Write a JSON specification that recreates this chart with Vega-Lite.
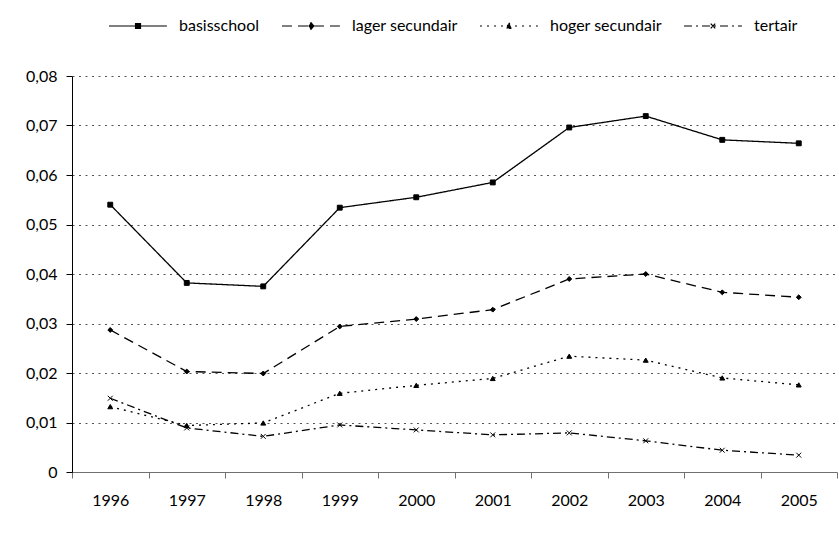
{
  "$schema": "https://vega.github.io/schema/vega-lite/v6.json",
  "autosize": "none",
  "width": 765,
  "height": 396,
  "padding": {"left": 72, "top": 76, "right": 2, "bottom": 62},
  "config": {
    "font": "Lato",
    "view": {"stroke": null},
    "axis": {"labelFont": "Lato", "labelFontSize": 16, "labelColor": "black", "title": null},
    "legend": {
      "title": null,
      "orient": "none",
      "direction": "horizontal",
      "legendX": 32,
      "legendY": -58,
      "padding": 0,
      "symbolSize": 36,
      "symbolFillColor": "black",
      "symbolStrokeColor": "black",
      "symbolStrokeWidth": 1.2,
      "symbolOpacity": 1,
      "labelFontSize": 16,
      "labelColor": "black",
      "labelFont": "Lato",
      "labelOffset": 59,
      "columnPadding": 17
    }
  },
  "data": {
    "values": [
      {"year": "1996", "series": "basisschool", "value": 0.0540},
      {"year": "1997", "series": "basisschool", "value": 0.0382},
      {"year": "1998", "series": "basisschool", "value": 0.0375},
      {"year": "1999", "series": "basisschool", "value": 0.0534},
      {"year": "2000", "series": "basisschool", "value": 0.0555},
      {"year": "2001", "series": "basisschool", "value": 0.0585},
      {"year": "2002", "series": "basisschool", "value": 0.0696},
      {"year": "2003", "series": "basisschool", "value": 0.0719},
      {"year": "2004", "series": "basisschool", "value": 0.0671},
      {"year": "2005", "series": "basisschool", "value": 0.0664},
      {"year": "1996", "series": "lager secundair", "value": 0.0287},
      {"year": "1997", "series": "lager secundair", "value": 0.0203},
      {"year": "1998", "series": "lager secundair", "value": 0.0199},
      {"year": "1999", "series": "lager secundair", "value": 0.0294},
      {"year": "2000", "series": "lager secundair", "value": 0.0309},
      {"year": "2001", "series": "lager secundair", "value": 0.0328},
      {"year": "2002", "series": "lager secundair", "value": 0.0390},
      {"year": "2003", "series": "lager secundair", "value": 0.0400},
      {"year": "2004", "series": "lager secundair", "value": 0.0363},
      {"year": "2005", "series": "lager secundair", "value": 0.0353},
      {"year": "1996", "series": "hoger secundair", "value": 0.0132},
      {"year": "1997", "series": "hoger secundair", "value": 0.0094},
      {"year": "1998", "series": "hoger secundair", "value": 0.0099},
      {"year": "1999", "series": "hoger secundair", "value": 0.0159},
      {"year": "2000", "series": "hoger secundair", "value": 0.0175},
      {"year": "2001", "series": "hoger secundair", "value": 0.0189},
      {"year": "2002", "series": "hoger secundair", "value": 0.0234},
      {"year": "2003", "series": "hoger secundair", "value": 0.0226},
      {"year": "2004", "series": "hoger secundair", "value": 0.0190},
      {"year": "2005", "series": "hoger secundair", "value": 0.0176},
      {"year": "1996", "series": "tertair", "value": 0.0149},
      {"year": "1997", "series": "tertair", "value": 0.0089},
      {"year": "1998", "series": "tertair", "value": 0.0072},
      {"year": "1999", "series": "tertair", "value": 0.0095},
      {"year": "2000", "series": "tertair", "value": 0.0085},
      {"year": "2001", "series": "tertair", "value": 0.0075},
      {"year": "2002", "series": "tertair", "value": 0.0079},
      {"year": "2003", "series": "tertair", "value": 0.0063},
      {"year": "2004", "series": "tertair", "value": 0.0044},
      {"year": "2005", "series": "tertair", "value": 0.0034}
    ]
  },
  "encoding": {
    "x": {
      "field": "year",
      "type": "ordinal",
      "bandPosition": 0.5,
      "scale": {"type": "band", "paddingInner": 0, "paddingOuter": 0},
      "axis": {
        "labelAngle": 0,
        "tickBand": "extent",
        "domainColor": "#707070",
        "tickColor": "#707070",
        "tickSize": 6,
        "labelPadding": 14,
        "grid": false
      }
    },
    "y": {
      "field": "value",
      "type": "quantitative",
      "scale": {"domain": [0, 0.08], "nice": false},
      "axis": {
        "values": [0, 0.01, 0.02, 0.03, 0.04, 0.05, 0.06, 0.07, 0.08],
        "labelExpr": "datum.value == 0 ? '0' : replace(format(datum.value, '.2f'), '.', ',')",
        "domainColor": "black",
        "tickColor": "black",
        "tickSize": 6,
        "labelPadding": 9,
        "grid": true,
        "gridColor": "#555555",
        "gridDash": [2, 4.5],
        "gridWidth": 1
      }
    }
  },
  "layer": [
    {
      "mark": {"type": "line", "color": "black", "strokeWidth": 1.3},
      "encoding": {
        "strokeDash": {
          "field": "series",
          "scale": {
            "domain": ["basisschool", "lager secundair", "hoger secundair", "tertair"],
            "range": [[1, 0], [10, 6], [2, 5], [8, 4, 2, 4]]
          },
          "legend": {
            "encode": {
              "symbols": {
                "update": {
                  "shape": {"signal": "datum.value == 'basisschool' ? 'M-1,0H18.3M7.84,-0.8H9.5V0.8H7.84Z' : datum.value == 'lager secundair' ? 'M-1,0H18.3M8.67,-1.1L9.6,0L8.67,1.1L7.74,0Z' : datum.value == 'hoger secundair' ? 'M-1,0H18.3M8.67,-1.1L9.6,0.8H7.74Z' : 'M-1,0H18.3M7.9,-0.8L9.4,0.8M7.9,0.8L9.4,-0.8'"},
                  "fill": {"value": "black"},
                  "stroke": {"value": "black"},
                  "strokeWidth": {"value": 1.2},
                  "size": {"value": 36},
                  "opacity": {"value": 1}
                }
              }
            }
          }
        }
      }
    },
    {
      "mark": {"type": "point", "filled": true, "color": "black", "stroke": "black", "strokeWidth": 1, "opacity": 1, "size": 24},
      "encoding": {
        "shape": {
          "field": "series",
          "scale": {
            "domain": ["tertair", "hoger secundair", "lager secundair", "basisschool"],
            "range": ["M-1,-1L1,1M-1,1L1,-1", "triangle-up", "diamond", "square"]
          },
          "legend": null
        }
      }
    }
  ]
}
